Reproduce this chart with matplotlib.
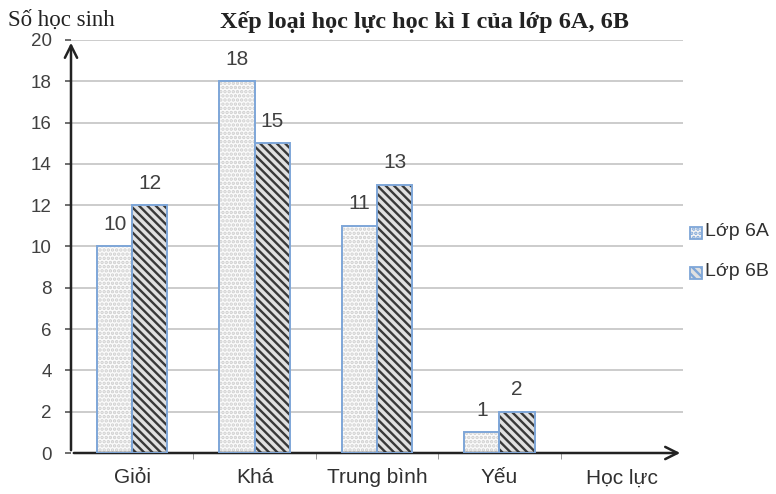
import matplotlib.pyplot as plt
import numpy as np
from matplotlib.patches import Rectangle

categories = ['Giỏi', 'Khá', 'Trung bình', 'Yếu', 'Học lực']
lop_6a = [10, 18, 11, 1]
lop_6b = [12, 15, 13, 2]
y_ticks = list(range(0, 21, 2))

plt.rcParams['font.family'] = ['Liberation Sans', 'DejaVu Sans']
plt.rcParams['hatch.linewidth'] = 1.7

fig = plt.figure(figsize=(7.76, 4.94), dpi=100)
ax = fig.add_axes([71 / 776, 41 / 494, 612 / 776, 413 / 494])

x = np.arange(len(lop_6a))
w = 0.287
edge = '#7ea6d8'

# Lớp 6A: dotted fill
ax.bar(x - w / 2, lop_6a, w, color='#fbfbfb', hatch='....', edgecolor='#cfcfcf',
       linewidth=0, zorder=3)
ax.bar(x - w / 2, lop_6a, w, fill=False, edgecolor=edge, linewidth=1.4, zorder=4)
# Lớp 6B: diagonal stripes
ax.bar(x + w / 2, lop_6b, w, color='#e0e0e0', hatch='\\\\\\\\', edgecolor='#383838',
       linewidth=0, zorder=3)
ax.bar(x + w / 2, lop_6b, w, fill=False, edgecolor=edge, linewidth=1.4, zorder=4)

for xi, v in zip(x, lop_6a):
    ax.text(xi - w / 2, v + 0.6, str(v), ha='center', va='bottom', fontsize=15,
            color='#404040')
for xi, v in zip(x, lop_6b):
    ax.text(xi + w / 2, v + 0.6, str(v), ha='center', va='bottom', fontsize=15,
            color='#404040')

ax.set_xlim(-0.5, 4.5)
ax.set_ylim(0, 20)
ax.set_yticks(y_ticks)
ax.set_yticklabels([str(t) for t in y_ticks], fontsize=13.5, color='#404040')
ax.set_xticks(range(len(categories)))
ax.set_xticklabels(categories, fontsize=15, color='#303030')
ax.set_xticks(np.arange(0.5, 4, 1), minor=True)
ax.tick_params(axis='x', which='major', length=0, pad=11)
ax.tick_params(axis='x', which='minor', length=4, color='#888888')
ax.tick_params(axis='y', length=4, width=1.2, color='#555555', pad=10)

for t in y_ticks[1:]:
    ax.axhline(t, color='#c8c8c8', linewidth=1.3, zorder=1)

for s in ax.spines.values():
    s.set_visible(False)

# axes with arrows
ax.annotate('', xy=(0, 1.0), xytext=(0, 0), xycoords='axes fraction',
            arrowprops=dict(arrowstyle='->', color='#222222', lw=1.8,
                            mutation_scale=22), annotation_clip=False)
ax.annotate('', xy=(1.0, 0), xytext=(0, 0), xycoords='axes fraction',
            arrowprops=dict(arrowstyle='->', color='#222222', lw=1.8,
                            mutation_scale=22), annotation_clip=False)

fig.text(8 / 776, 1 - 20 / 494, 'Số học sinh', family='Liberation Serif',
         fontsize=16.5, va='center', ha='left', color='#222222')
fig.text(220 / 776, 1 - 22 / 494, 'Xếp loại học lực học kì I của lớp 6A, 6B',
         family='Liberation Serif', fontweight='bold', fontsize=17.5,
         va='center', ha='left', color='#222222')

# legend
fig.patches.append(Rectangle((690 / 776, 1 - 239 / 494), 12 / 776, 12 / 494,
                             transform=fig.transFigure, facecolor='#f4f4f4',
                             edgecolor=edge, linewidth=1.3, hatch='....'))
fig.patches.append(Rectangle((690 / 776, 1 - 279 / 494), 12 / 776, 12 / 494,
                             transform=fig.transFigure, facecolor='#e0e0e0',
                             edgecolor=edge, linewidth=1.3, hatch='\\\\\\\\'))
fig.text(705 / 776, 1 - 232 / 494, 'Lớp 6A', fontsize=14, va='center',
         color='#303030')
fig.text(705 / 776, 1 - 272 / 494, 'Lớp 6B', fontsize=14, va='center',
         color='#303030')

fig.savefig('out.png', dpi=100)
